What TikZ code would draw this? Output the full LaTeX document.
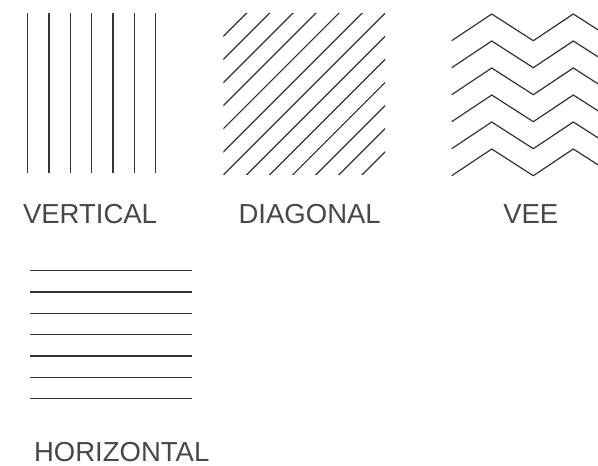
\documentclass[tikz,border=0pt]{standalone}
\usepackage{fontspec}
\setmainfont{Liberation Sans}
\begin{document}
\begin{tikzpicture}[x=1pt,y=-1pt,
  hatch/.style={draw=black!80,line width=1.2pt},
  lbl/.style={anchor=base,text=black!72,inner sep=0pt,font=\fontsize{27.5}{30}\selectfont}]
\useasboundingbox (0,0) rectangle (598,466);
% vertical
\foreach \i in {0,...,6}
  \draw[hatch] ({27.7+21.33*\i},13.3) -- ({27.7+21.33*\i},173.3);
\node[lbl] (tv) at (90,223.2) {VERTICAL};
% diagonal
\begin{scope}
\clip (223.3,13.3) rectangle (385,174.5);
\foreach \k in {1,...,13}
  \draw[hatch] ({236.6+23.1*\k},0) -- (0,{236.6+23.1*\k});
\end{scope}
\node[lbl] (td) at (309.7,223.2) {DIAGONAL};
% vee
\begin{scope}
\clip (440,0) rectangle (598,200);
\foreach \k in {0,...,5}
  \draw[hatch,line join=miter] (451.7,{40.7+27*\k}) -- (491.7,{14+27*\k}) -- (533.3,{40.7+27*\k}) -- (573.3,{14+27*\k}) -- (615,{40.7+27*\k});
\end{scope}
\node[lbl] (te) at (530.8,223.2) {VEE};
% horizontal
\foreach \i in {0,...,6}
  \draw[hatch] (30,{270.7+21.33*\i}) -- (191.7,{270.7+21.33*\i});
\node[lbl] (th) at (121.7,461.6) {HORIZONTAL};
\end{tikzpicture}
\end{document}
